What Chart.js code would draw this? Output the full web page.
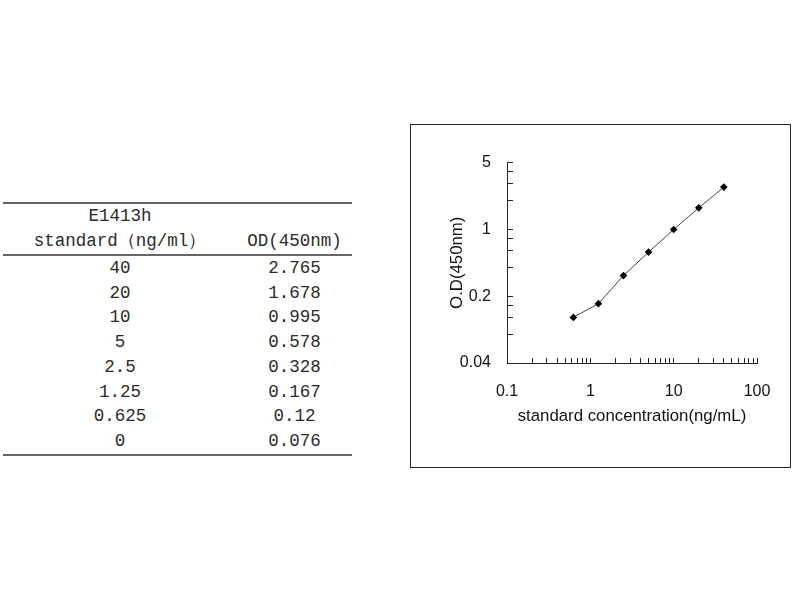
<!DOCTYPE html>
<html lang="en">
<head>
    <meta charset="UTF-8">
    <title>E1413h standard curve</title>
    <style>
        body {
            margin: 0;
            padding: 0;
            background-color: #fff;
            width: 800px;
            height: 600px;
            position: relative;
            overflow: hidden;
        }

        #std-table {
            position: absolute;
            left: 3px;
            top: 202px;
            width: 349px;
            border-collapse: collapse;
            font-family: "Liberation Mono", "DejaVu Sans Mono", monospace;
            font-size: 17.5px;
            color: #2a2a2a;
            border-top: 2px solid #666;
            border-bottom: 2px solid #666;
        }

        #std-table th {
            font-weight: normal;
            line-height: 25px;
            padding: 0;
            border-bottom: 2px solid #666;
            vertical-align: bottom;
        }

        #std-table td {
            line-height: 24.7px;
            padding: 0;
            text-align: center;
        }

        #std-table .c1 { width: 234px; }
        #std-table .c2 { width: 115px; }

        #chart-box {
            position: absolute;
            left: 410px;
            top: 124px;
            width: 379px;
            height: 342px;
            border: 1px solid #222;
        }
    </style>
</head>
<body>
    <!-- standard table -->
    <table id="std-table">
        <thead>
            <tr>
                <th class="c1" id="h1"></th>
                <th class="c2" id="h2"></th>
            </tr>
        </thead>
        <tbody id="std-body"></tbody>
    </table>

    <!-- curve -->
    <div id="chart-box">
        <canvas id="curve" width="379" height="342"></canvas>
    </div>

    <script src="https://cdn.jsdelivr.net/npm/chart.js"></script>
    <script>
        // data
        const kitName = 'E1413h';
        const colHeaders = ['standard（ng/ml）', 'OD(450nm)'];
        const concLabels = ['40', '20', '10', '5', '2.5', '1.25', '0.625', '0'];
        const concentrations = [40, 20, 10, 5, 2.5, 1.25, 0.625, 0];
        const odLabels = ['2.765', '1.678', '0.995', '0.578', '0.328', '0.167', '0.12', '0.076'];
        const odValues = [2.765, 1.678, 0.995, 0.578, 0.328, 0.167, 0.12, 0.076];

        // axis ticks (log scales)
        const xTicks = [0.1, 0.2, 0.3, 0.4, 0.5, 0.6, 0.7, 0.8, 0.9,
            1, 2, 3, 4, 5, 6, 7, 8, 9,
            10, 20, 30, 40, 50, 60, 70, 80, 90, 100];
        const xTickLabels = [0.1, 1, 10, 100];
        const yTicks = [0.04, 0.08, 0.12, 0.16, 0.2, 0.4, 0.6, 0.8, 1, 2, 3, 4, 5];
        const yTickLabels = [0.04, 0.2, 1, 5];

        // fill the table
        document.getElementById('h1').innerHTML = kitName + '<br>' + colHeaders[0];
        document.getElementById('h2').textContent = colHeaders[1];
        const tbody = document.getElementById('std-body');
        concLabels.forEach((c, i) => {
            const tr = document.createElement('tr');
            tr.innerHTML = `<td class="c1">${c}</td><td class="c2">${odLabels[i]}</td>`;
            tbody.appendChild(tr);
        });

        // points for the curve (0 can't sit on a log axis)
        const points = [];
        concentrations.forEach((c, i) => {
            if (c > 0) points.push({ x: c, y: odValues[i] });
        });

        const tickFont = { family: 'Liberation Sans, Arial, sans-serif', size: 16 };
        const titleFont = { family: 'Liberation Sans, Arial, sans-serif', size: 16.8 };

        const ctx = document.getElementById('curve').getContext('2d');
        const curve = new Chart(ctx, {
            type: 'scatter',
            data: {
                datasets: [{
                    data: points,
                    showLine: true,
                    borderColor: '#444',
                    borderWidth: 1,
                    tension: 0,
                    pointStyle: 'rectRot',
                    pointRadius: 3.8,
                    pointBackgroundColor: '#000',
                    pointBorderColor: '#000',
                    pointBorderWidth: 0
                }]
            },
            options: {
                responsive: false,
                animation: false,
                layout: {
                    padding: { left: 0, top: 37.5, right: 33, bottom: 0 }
                },
                plugins: {
                    legend: { display: false },
                    tooltip: { enabled: false }
                },
                scales: {
                    x: {
                        type: 'logarithmic',
                        min: 0.1,
                        max: 100,
                        afterBuildTicks: (axis) => {
                            axis.ticks = xTicks.map(v => ({ value: v }));
                        },
                        afterFit: (axis) => {
                            axis.height = 104;
                            axis.paddingLeft = 0;
                            axis.paddingRight = 0;
                        },
                        border: { display: true, color: '#222', width: 1 },
                        grid: { drawOnChartArea: false, drawTicks: true, tickLength: -5, color: '#222' },
                        ticks: {
                            autoSkip: false,
                            maxRotation: 0,
                            padding: 24,
                            color: '#111',
                            font: tickFont,
                            callback: (v) => xTickLabels.includes(v) ? String(v) : ''
                        },
                        title: {
                            display: true,
                            text: 'standard concentration(ng/mL)',
                            color: '#111',
                            font: titleFont,
                            padding: { top: 0, bottom: 41 }
                        }
                    },
                    y: {
                        type: 'logarithmic',
                        min: 0.04,
                        max: 5,
                        afterBuildTicks: (axis) => {
                            axis.ticks = yTicks.map(v => ({ value: v }));
                        },
                        afterFit: (axis) => { axis.width = 96; },
                        border: { display: true, color: '#222', width: 1 },
                        grid: { drawOnChartArea: false, drawTicks: true, tickLength: -6, color: '#222' },
                        ticks: {
                            autoSkip: false,
                            padding: 22,
                            color: '#111',
                            font: tickFont,
                            callback: (v) => yTickLabels.includes(v) ? String(v) : ''
                        },
                        title: {
                            display: true,
                            text: 'O.D(450nm)',
                            color: '#111',
                            font: titleFont,
                            padding: { top: 36, bottom: 0 }
                        }
                    }
                }
            }
        });
    </script>
</body>
</html>
